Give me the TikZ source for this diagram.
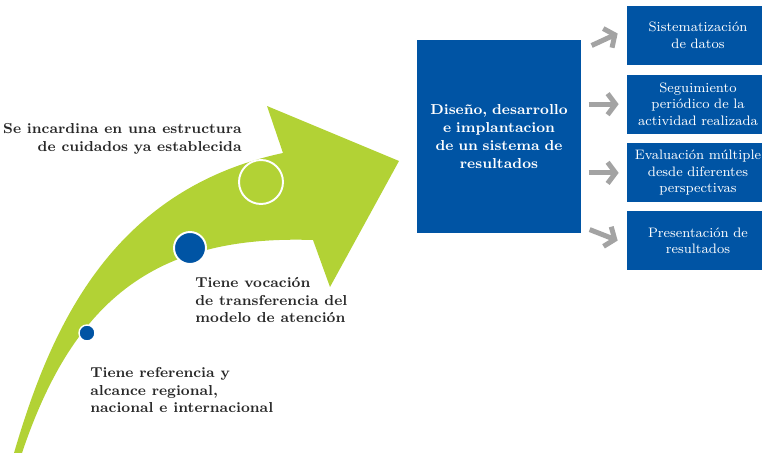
\documentclass[tikz,border=0pt]{standalone}
\usepackage{tikz}
\usetikzlibrary{shapes,positioning,arrows.meta,calc}
\definecolor{lima}{RGB}{178,210,53}
\definecolor{azul}{RGB}{0,84,164}
\definecolor{gris}{RGB}{163,163,163}
\definecolor{tinta}{RGB}{40,40,40}
\tikzstyle{bigbox} = [rectangle, fill=azul, text=white, minimum width=3.28cm, minimum height=3.86cm, text width=3cm, align=center, inner sep=0pt, font=\fontsize{8.2}{10.3}\selectfont\bfseries]
\tikzstyle{smallbox} = [rectangle, fill=azul, text=white, minimum width=2.84cm, minimum height=1.18cm, text width=2.84cm, align=center, inner sep=0pt, font=\fontsize{7.8}{9.4}\selectfont]
\tikzstyle{nota} = [inner sep=0pt, text=tinta, font=\fontsize{8.2}{10.2}\selectfont\bfseries]
\tikzstyle{dot} = [circle, fill=azul, draw=white, inner sep=0pt]
\tikzstyle{garrow} = [line width=0.1cm, draw=gris, -{Straight Barb[length=4.5pt, width=12pt]}]

\begin{document}
\begin{tikzpicture}[x=0.02cm, y=-0.02cm]
\useasboundingbox (0,0) rectangle (762,453);
\clip (0,0) rectangle (762,453);

% curved arrow
\fill[lima] (14,453) .. controls (50,330) and (110,190) .. (283,153)
	-- (267,106) -- (399,161) -- (330,287) -- (313,240)
	.. controls (160,235) and (75,295) .. (22,453) -- cycle;

\node[dot, minimum size=0.32cm, line width=0.8pt] (c1) at (87,333) {};
\node[dot, minimum size=0.64cm, line width=1.1pt] (c2) at (190,248) {};
\node[circle, draw=white, line width=1.1pt, minimum size=0.88cm, inner sep=0pt] (c3) at (261,182) {};

\node[nota, anchor=east, align=right] (n3) at (242,139) {Se incardina en una estructura\\de cuidados ya establecida};
\node[nota, anchor=west, align=left] (n2) at (195,300) {Tiene vocación\\de transferencia del\\modelo de atención};
\node[nota, anchor=west, align=left] (n1) at (90,390) {Tiene referencia y\\alcance regional,\\nacional e internacional};

% boxes
\node[bigbox] (big) at (499,136.5) {Diseño, desarrollo\\e implantacion\\de un sistema de\\resultados};

\node[smallbox] (s1) at (698,35.5) {Sistematización\\de datos};
\node[smallbox, below=0.18cm of s1] (s2) {Seguimiento\\periódico de la\\actividad realizada};
\node[smallbox, below=0.18cm of s2] (s3) {Evaluación múltiple\\desde diferentes\\perspectivas};
\node[smallbox, below=0.16cm of s3] (s4) {Presentación de\\resultados};

\draw[garrow] ($(s1.west)+(-35,10)$) -- ($(s1.west)+(-9,-2)$);
\draw[garrow] ($(s2.west)+(-38,0)$) -- ($(s2.west)+(-8,0)$);
\draw[garrow] ($(s3.west)+(-38,0)$) -- ($(s3.west)+(-8,0)$);
\draw[garrow] ($(s4.west)+(-37,-11)$) -- ($(s4.west)+(-9,0)$);

\end{tikzpicture}
\end{document}
